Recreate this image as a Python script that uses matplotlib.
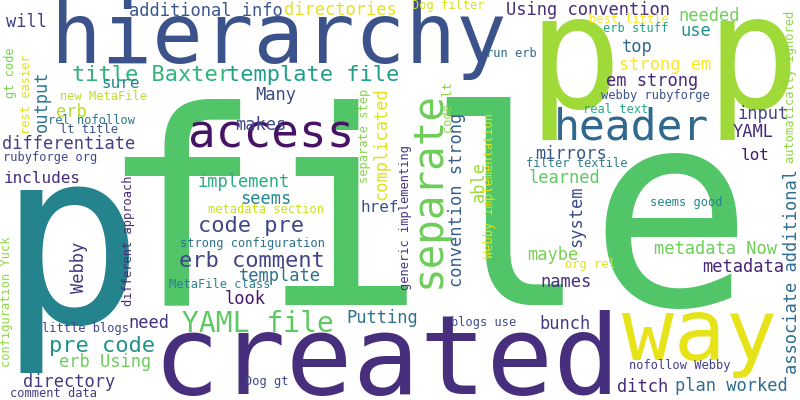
import matplotlib
matplotlib.use("Agg")
import matplotlib.pyplot as plt

# word cloud terms and their relative weight (largest word = 1)
words = [
    "file", "hierarchy", "created", "p", "p", "p", "way", "access", "header",
    "separate", "YAML file", "title Baxter", "template file", "code pre",
    "erb comment", "pre code", "additional info", "will", "directories",
    "Using convention", "sure", "output", "erb", "differentiate", "includes",
    "Many", "makes", "implement", "seems", "template", "look", "need", "Webby",
    "erb Using", "directory", "complicated", "href", "convention strong", "able",
    "Putting", "ditch", "plan worked", "bunch", "names", "maybe", "metadata Now",
    "metadata", "system", "associate additional", "needed", "use", "top",
    "strong em", "em strong", "input", "YAML", "lot", "mirrors", "learned",
    "new MetaFile", "rel nofollow", "lt title", "gt code", "rest easier",
    "rubyforge org", "different approach", "configuration Yuck",
    "metadata section", "strong configuration", "MetaFile class", "little blogs",
    "comment data", "Dog gt", "Dog filter", "run erb", "separate step",
    "generic implementing", "code lt", "Webby implementation", "blogs use",
    "nofollow Webby", "org rel", "seems good", "automatically ignored",
    "best little", "erb stuff", "webby rubyforge", "real text", "filter textile",
]
weights = [
    1.00, 0.309, 0.408, 0.574, 0.574, 0.890, 0.316, 0.169, 0.158,
    0.151, 0.103, 0.081, 0.081, 0.081,
    0.081, 0.081, 0.0625, 0.0625, 0.0625,
    0.0625, 0.059, 0.0625, 0.0625, 0.0625, 0.059,
    0.0625, 0.0625, 0.0625, 0.0625, 0.0625, 0.0625, 0.0625, 0.0625,
    0.0625, 0.0625, 0.0625, 0.059, 0.0625, 0.0625,
    0.0625, 0.0625, 0.0625, 0.0625, 0.0625, 0.0625, 0.0625,
    0.0625, 0.0625, 0.0625, 0.0625, 0.0625, 0.0625,
    0.0625, 0.0625, 0.0625, 0.0625, 0.059, 0.0625, 0.0625,
    0.044, 0.044, 0.044, 0.044, 0.044,
    0.044, 0.044, 0.044,
    0.044, 0.044, 0.044, 0.044,
    0.044, 0.044, 0.044, 0.044, 0.044,
    0.044, 0.044, 0.044, 0.044,
    0.044, 0.044, 0.044, 0.044,
    0.044, 0.044, 0.044, 0.044, 0.044,
]

# layout in image pixels (y downwards).
# horizontal words: x = middle of the word, y = baseline
# vertical words:   x = baseline, y = middle of the word
pos_x = [
    426, 279, 386, 574, 752, 70, 700, 271, 632,
    440, 258, 151, 313, 251,
    252, 102, 206, 27, 340,
    588, 121, 46.5, 71, 69, 42,
    276, 261, 244, 266, 280, 245, 149, 84.5,
    105, 69, 386.5, 380, 462.5, 483.5,
    382, 643, 731, 565, 566, 553, 716,
    743, 581.5, 797, 709, 696, 637,
    665, 652, 763, 753, 755, 571, 565,
    103, 92, 89, 14, 30,
    50, 132, 10,
    266, 253, 220, 85,
    53, 267, 448, 511, 368,
    409, 452, 493, 484,
    680, 590, 686, 794,
    629, 636, 655, 616, 577,
]
pos_y = [
    305, 63, 394, 107, 107, 322, 360, 148, 140,
    189, 332, 81, 81, 232,
    267, 352, 16, 27, 15,
    15, 88, 101, 117, 149, 183,
    100, 130, 187, 204, 281, 304, 328, 267,
    367, 387, 144, 212, 200, 182,
    323, 392, 391, 329, 287, 260, 254,
    272, 216, 272, 21, 36, 52,
    70, 86, 119, 137, 160, 159, 183,
    100, 124, 133, 73, 94,
    161, 241, 302,
    213, 247, 288, 332,
    397, 385, 9, 57, 136,
    217, 108, 185, 326,
    369, 268, 206, 87,
    23, 32, 99, 113, 167,
]
vertical = [
    0, 0, 0, 0, 0, 0, 0, 0, 0,
    1, 0, 0, 0, 0,
    0, 0, 0, 0, 0,
    0, 0, 1, 0, 0, 0,
    0, 0, 0, 0, 0, 0, 0, 1,
    0, 0, 1, 0, 1, 1,
    0, 0, 0, 0, 0, 0, 0,
    0, 1, 1, 0, 0, 0,
    0, 0, 0, 0, 0, 0, 0,
    0, 0, 0, 1, 1,
    0, 1, 1,
    0, 0, 0, 0,
    0, 0, 0, 0, 1,
    1, 1, 1, 0,
    0, 0, 0, 1,
    0, 0, 0, 0, 0,
]
colors = [
    "#52c569", "#3b528b", "#472f7d", "#a0da39", "#a0da39", "#25838e", "#e6e419", "#471365", "#31688e",
    "#6ece58", "#5ec962", "#2fb47c", "#1f9e89", "#3f4788",
    "#414487", "#21918c", "#39568c", "#424086", "#e5e419",
    "#472c7a", "#25858e", "#2a768e", "#b5de2b", "#433e85", "#472d7b",
    "#3f4889", "#3e4a89", "#27ad81", "#23898e", "#2d718e", "#48186a", "#46337e", "#453781",
    "#6ccd5a", "#443a83", "#dfe318", "#3b518b", "#355f8d", "#9bd93c",
    "#2c728e", "#482576", "#2f6c8e", "#443983", "#46307e", "#7ad151", "#6ece58",
    "#482475", "#3e4c8a", "#2f6c8e", "#6ece58", "#21918c", "#31688e",
    "#fde725", "#482878", "#404688", "#472d7b", "#481b6d", "#39568c", "#5ec962",
    "#bddf26", "#2a788e", "#3b518b", "#7ad151", "#dde318",
    "#3e4c8a", "#472c7a", "#8fd744",
    "#c8e020", "#2c728e", "#2e7e8e", "#3f4a8a",
    "#433d84", "#3f4889", "#d8e219", "#2f6b8e", "#86d549",
    "#463480", "#8fd744", "#e2e418", "#3d4e8a",
    "#433e85", "#dde318", "#25858e", "#90d743",
    "#fde725", "#20a386", "#3b528b", "#25ab82", "#2e7e8e",
]

max_px = 272  # em size of the largest word in pixels

fig = plt.figure(figsize=(8, 4), dpi=100)
ax = fig.add_axes([0, 0, 1, 1])
ax.set_xlim(0, 800)
ax.set_ylim(400, 0)
ax.axis("off")

for w, wt, x, y, v, c in zip(words, weights, pos_x, pos_y, vertical, colors):
    ax.text(x, y, w, fontsize=wt * max_px * 0.72, color=c,
            family="DejaVu Sans Mono", ha="center", va="baseline",
            rotation=90 if v else 0, rotation_mode="anchor")

fig.savefig("out.png", dpi=100, facecolor="white")
